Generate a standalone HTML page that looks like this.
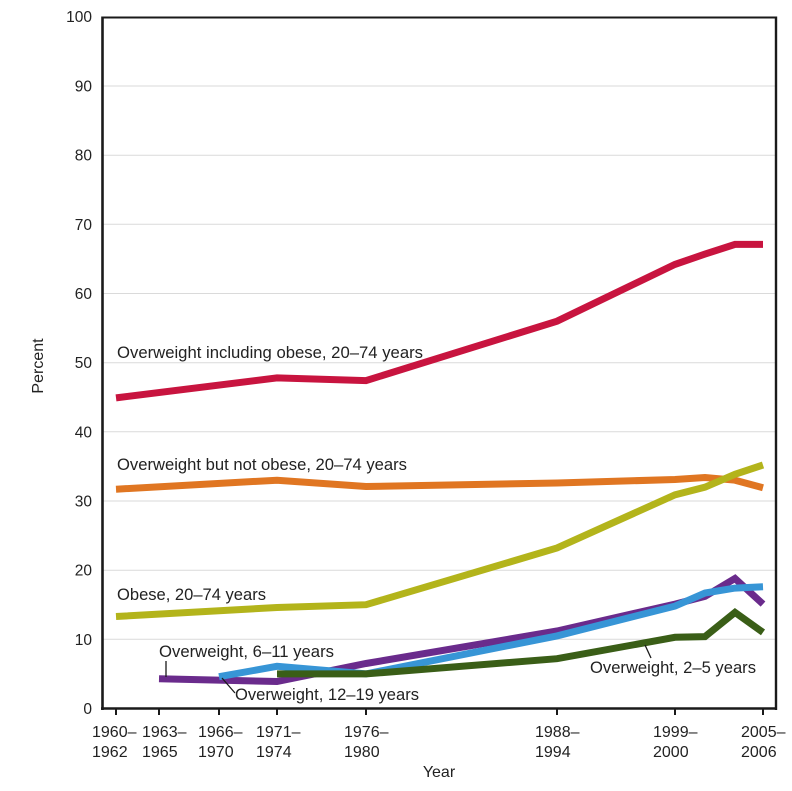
<!DOCTYPE html>
<html>
<head>
<meta charset="utf-8">
<style>
  html, body { margin: 0; padding: 0; background: #ffffff; }
  svg { display: block; }
  text { font-family: "Liberation Sans", Arial, sans-serif; fill: #222; }
</style>
</head>
<body>
<svg width="792" height="791" viewBox="0 0 792 791" xmlns="http://www.w3.org/2000/svg">
  <rect x="0" y="0" width="792" height="791" fill="#ffffff"/>

  <!-- gridlines -->
  <g stroke="#dadada" stroke-width="1">
    <line x1="103" y1="86.0" x2="775" y2="86.0"/>
    <line x1="103" y1="155.2" x2="775" y2="155.2"/>
    <line x1="103" y1="224.3" x2="775" y2="224.3"/>
    <line x1="103" y1="293.5" x2="775" y2="293.5"/>
    <line x1="103" y1="362.7" x2="775" y2="362.7"/>
    <line x1="103" y1="431.8" x2="775" y2="431.8"/>
    <line x1="103" y1="501.0" x2="775" y2="501.0"/>
    <line x1="103" y1="570.2" x2="775" y2="570.2"/>
    <line x1="103" y1="639.3" x2="775" y2="639.3"/>
  </g>

  <!-- frame -->
  <g stroke="#1a1a1a" fill="none">
    <line x1="102" y1="17.5" x2="777" y2="17.5" stroke-width="2"/>
    <line x1="776" y1="16.5" x2="776" y2="710" stroke-width="2.4"/>
    <line x1="102.5" y1="16.5" x2="102.5" y2="710" stroke-width="2.6"/>
    <line x1="101" y1="708.5" x2="777" y2="708.5" stroke-width="2.6"/>
  </g>

  <!-- x ticks -->
  <g stroke="#1a1a1a" stroke-width="2">
    <line x1="116" y1="708" x2="116" y2="715"/>
    <line x1="159" y1="708" x2="159" y2="715"/>
    <line x1="219" y1="708" x2="219" y2="715"/>
    <line x1="277" y1="708" x2="277" y2="715"/>
    <line x1="366" y1="708" x2="366" y2="715"/>
    <line x1="557" y1="708" x2="557" y2="715"/>
    <line x1="675" y1="708" x2="675" y2="715"/>
    <line x1="763" y1="708" x2="763" y2="715"/>
  </g>

  <!-- y tick labels -->
  <g font-size="15.5" text-anchor="end">
    <text x="92" y="22">100</text>
    <text x="92" y="91.5">90</text>
    <text x="92" y="160.7">80</text>
    <text x="92" y="229.8">70</text>
    <text x="92" y="299">60</text>
    <text x="92" y="368.2">50</text>
    <text x="92" y="437.3">40</text>
    <text x="92" y="506.5">30</text>
    <text x="92" y="575.7">20</text>
    <text x="92" y="644.8">10</text>
    <text x="92" y="714">0</text>
  </g>

  <!-- x tick labels -->
  <g font-size="16">
    <text x="92" y="737">1960–</text><text x="92" y="757">1962</text>
    <text x="142" y="737">1963–</text><text x="142" y="757">1965</text>
    <text x="198" y="737">1966–</text><text x="198" y="757">1970</text>
    <text x="256" y="737">1971–</text><text x="256" y="757">1974</text>
    <text x="344" y="737">1976–</text><text x="344" y="757">1980</text>
    <text x="535" y="737">1988–</text><text x="535" y="757">1994</text>
    <text x="653" y="737">1999–</text><text x="653" y="757">2000</text>
    <text x="741" y="737">2005–</text><text x="741" y="757">2006</text>
  </g>

  <!-- axis titles -->
  <text x="439" y="777" font-size="16" text-anchor="middle">Year</text>
  <text transform="translate(43,366) rotate(-90)" font-size="16" text-anchor="middle">Percent</text>

  <!-- series -->
  <g fill="none" stroke-width="7" stroke-linejoin="miter" stroke-linecap="butt">
    <polyline stroke="#c8143f" points="116,397.9 277,377.9 366,380.6 557,321.2 675,264.4 705,254.1 735,244.4 763,244.4"/>
    <polyline stroke="#e07622" points="116,489.2 277,480.2 366,486.5 557,483.0 675,479.5 705,477.5 735,480.2 763,487.8"/>
    <polyline stroke="#b3b41b" points="116,616.5 277,607.5 366,604.7 557,548.0 675,494.8 705,487.2 735,474.3 763,465.0"/>
    <polyline stroke="#6a2b8c" points="159,678.8 277,681.5 366,663.5 557,631.0 675,604.1 705,596.4 735,578.5 763,604.1"/>
    <polyline stroke="#3795d6" points="219,676.7 277,666.3 366,673.9 557,635.9 675,606.1 705,593.0 735,588.1 763,586.8"/>
    <polyline stroke="#3a5e17" points="277,673.9 366,673.9 557,658.7 675,637.3 705,636.6 735,612.4 763,632.4"/>
  </g>

  <!-- leader lines -->
  <g stroke="#1a1a1a" stroke-width="1.3">
    <line x1="166" y1="661" x2="166" y2="677"/>
    <line x1="222" y1="678" x2="235" y2="693"/>
    <line x1="645" y1="645" x2="651" y2="658"/>
  </g>

  <!-- series labels -->
  <g font-size="16.5">
    <text x="117" y="358" textLength="306" lengthAdjust="spacingAndGlyphs">Overweight including obese, 20–74 years</text>
    <text x="117" y="470" textLength="290" lengthAdjust="spacingAndGlyphs">Overweight but not obese, 20–74 years</text>
    <text x="117" y="600" textLength="149" lengthAdjust="spacingAndGlyphs">Obese, 20–74 years</text>
    <text x="159" y="657" textLength="175" lengthAdjust="spacingAndGlyphs">Overweight, 6–11 years</text>
    <text x="235" y="700" textLength="184" lengthAdjust="spacingAndGlyphs">Overweight, 12–19 years</text>
    <text x="590" y="673" textLength="166" lengthAdjust="spacingAndGlyphs">Overweight, 2–5 years</text>
  </g>
</svg>
</body>
</html>
